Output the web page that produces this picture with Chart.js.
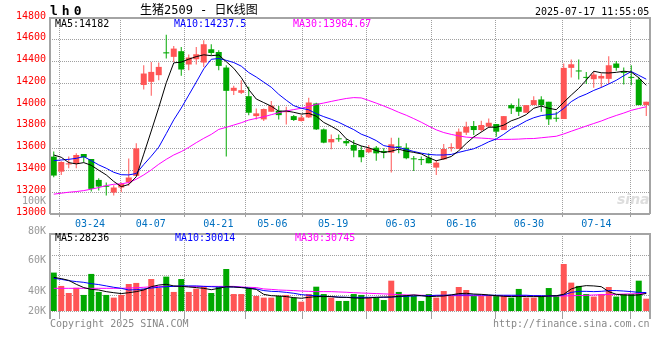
<!DOCTYPE html>
<html>
<head>
<meta charset="utf-8">
<script src="https://cdn.jsdelivr.net/npm/chart.js@4.4.1/dist/chart.umd.min.js"></script>
<style>
  html, body { margin: 0; padding: 0; background: #fff; }
  #wrap { position: relative; width: 660px; height: 360px; overflow: hidden; }
  canvas { position: absolute; left: 0; }
  .t { position: absolute; font-family: 'DejaVu Sans Mono', monospace; font-size: 10px; line-height: 12px; white-space: pre; }
  .gray { color: #999; }
</style>
</head>
<body>
<div id="wrap">
  <canvas id="priceChart" width="660" height="233" style="top:0"></canvas>
  <canvas id="volChart" width="660" height="99" style="top:226px"></canvas>

  <div class="t" style="left:50px;top:4px;font-size:13px;line-height:14px;font-weight:bold;letter-spacing:4px">lh0</div>
  <div class="t" style="left:140px;top:3px;font-size:12px;line-height:14px;font-family:'DejaVu Sans Mono','Noto Sans CJK SC',monospace">生猪2509 - 日K线图</div>
  <div class="t" style="left:535px;top:6px">2025-07-17 11:55:05</div>

  <div class="t" style="left:55px;top:18px;color:#000">MA5:14182</div>
  <div class="t" style="left:174px;top:18px;color:#0000ff">MA10:14237.5</div>
  <div class="t" style="left:293px;top:18px;color:#ff00ff">MA30:13984.67</div>

  <div class="t" style="left:617px;top:191px;font-family:'DejaVu Sans',sans-serif;font-size:14px;line-height:16px;font-style:italic;font-weight:bold;color:rgba(170,170,170,0.4)">sina</div>

  <div class="t gray" style="left:22px;top:195px">100K</div>
  <div class="t gray" style="left:28px;top:225px">80K</div>
  <div class="t gray" style="left:28px;top:254px">60K</div>
  <div class="t gray" style="left:28px;top:285px">40K</div>
  <div class="t gray" style="left:28px;top:305px">20K</div>

  <div class="t" style="left:55px;top:232px;color:#000">MA5:28236</div>
  <div class="t" style="left:175px;top:232px;color:#0000ff">MA10:30014</div>
  <div class="t" style="left:295px;top:232px;color:#ff00ff">MA30:30745</div>

  <div class="t" style="left:50px;top:318px;color:#888">Copyright 2025 SINA.COM</div>
  <div class="t" style="left:493px;top:318px;color:#888">http://finance.sina.com.cn</div>
</div>

<script>
// trading days shown (one per candle)
const DATES = [
  '03-21','03-24','03-25','03-26','03-27','03-28','03-31','04-01','04-02','04-03',
  '04-07','04-08','04-09','04-10','04-11','04-14','04-15','04-16','04-17','04-18',
  '04-21','04-22','04-23','04-24','04-25','04-28','04-29','04-30','05-06','05-07',
  '05-08','05-09','05-12','05-13','05-14','05-15','05-16','05-19','05-20','05-21',
  '05-22','05-23','05-26','05-27','05-28','05-29','05-30','06-03','06-04','06-05',
  '06-06','06-09','06-10','06-11','06-12','06-13','06-16','06-17','06-18','06-19',
  '06-20','06-23','06-24','06-25','06-26','06-27','06-30','07-01','07-02','07-03',
  '07-04','07-07','07-08','07-09','07-10','07-11','07-14','07-15','07-16','07-17'
];
const AXIS_DATES = ['03-24','04-07','04-21','05-06','05-19','06-03','06-16','06-30','07-14'];

const OPEN = [
  13527,13389,13455,13460,13551,13505,13313,13255,13197,13243,
  13290,13350,14185,14214,14275,14485,14443,14495,14373,14421,
  14391,14513,14488,14345,14131,14113,14082,13899,13869,13939,
  13948,13935,13899,13854,13887,14015,13777,13658,13692,13670,
  13634,13588,13567,13609,13579,13563,13615,13609,13509,13500,
  13518,13426,13502,13605,13597,13747,13808,13771,13802,13826,
  13771,14000,13985,13930,14000,14052,14031,13881,13872,14342,
  14314,14256,14238,14244,14241,14382,14300,14256,14235,14000
];
const HIGH = [
  13573,13485,13527,13557,13551,13505,13329,13290,13264,13290,
  13510,13649,14366,14397,14391,14647,14543,14534,14464,14534,
  14595,14559,14504,14366,14177,14229,14168,13970,13970,14037,
  13991,13985,13909,13909,14067,14021,13786,13731,13731,13689,
  13680,13624,13634,13624,13603,13701,13701,13649,13533,13527,
  13557,13496,13643,13649,13786,13847,13854,13857,13878,13826,
  13899,14015,14061,14000,14082,14082,14031,13939,14382,14418,
  14418,14305,14305,14290,14449,14406,14345,14366,14260,14031
];
const LOW = [
  13338,13359,13420,13420,13475,13206,13215,13170,13170,13200,
  13260,13350,14144,14085,14229,14427,14397,14269,14321,14373,
  14351,14458,14321,13527,14092,14101,13908,13869,13854,13939,
  13869,13823,13854,13850,13881,13771,13649,13594,13664,13624,
  13521,13475,13557,13490,13512,13380,13557,13502,13395,13450,
  13466,13359,13496,13573,13597,13725,13725,13756,13790,13710,
  13771,13918,13899,13930,14000,13939,13817,13847,13872,14253,
  14235,14195,14159,14159,14195,14315,14189,14183,14000,13899
];
const CLOSE = [
  13353,13478,13465,13542,13520,13231,13252,13250,13243,13277,
  13335,13603,14290,14305,14351,14475,14519,14327,14437,14467,
  14559,14479,14360,14131,14159,14137,13930,13924,13964,13994,
  13908,13940,13863,13887,14024,13777,13655,13689,13686,13649,
  13582,13521,13603,13557,13563,13640,13612,13512,13502,13495,
  13466,13472,13597,13612,13756,13802,13771,13817,13838,13756,
  13899,13970,13939,14000,14046,14000,13869,13875,14342,14375,
  14309,14250,14281,14268,14366,14342,14296,14250,14000,14031
];

const MA5 = [
  13542,13521,13472,13460,13472,13447,13402,13359,13299,13251,
  13271,13342,13550,13762,13977,14205,14388,14395,14422,14445,
  14462,14454,14460,14399,14338,14253,14143,14056,14023,13990,
  13944,13946,13934,13918,13924,13898,13841,13806,13766,13691,
  13652,13625,13608,13582,13565,13577,13595,13577,13566,13552,
  13517,13489,13506,13528,13581,13648,13708,13752,13797,13797,
  13816,13856,13880,13913,13971,13991,13971,13958,14026,14092,
  14154,14230,14311,14297,14295,14301,14311,14304,14251,14182
];
const MA10 = [
  13490,13496,13502,13511,13527,13490,13451,13420,13383,13361,
  13359,13372,13454,13531,13614,13738,13865,13973,14092,14211,
  14333,14421,14428,14411,14391,14358,14299,14258,14211,14164,
  14099,14045,13995,13971,13957,13921,13894,13870,13842,13808,
  13775,13733,13707,13674,13628,13615,13610,13593,13574,13559,
  13547,13542,13542,13547,13566,13583,13599,13629,13663,13689,
  13732,13782,13816,13855,13884,13904,13913,13919,13970,14032,
  14073,14101,14135,14162,14194,14228,14270,14308,14274,14238
];
const MA30 = [
  13182,13191,13200,13206,13215,13228,13243,13261,13273,13277,
  13289,13319,13359,13405,13457,13502,13542,13573,13612,13655,
  13695,13731,13777,13796,13817,13838,13863,13878,13893,13912,
  13930,13946,13959,13971,13987,14006,14019,14034,14048,14061,
  14069,14066,14043,14018,13992,13964,13934,13907,13876,13843,
  13807,13773,13748,13731,13717,13706,13701,13697,13693,13685,
  13685,13686,13688,13692,13693,13700,13707,13714,13735,13760,
  13784,13808,13831,13854,13881,13905,13927,13952,13969,13985
];

const VOLUME = [
  42100,33200,28500,32000,27200,41200,29200,27200,25400,27200,
  34500,35200,31200,37800,31800,39400,29200,37800,29200,31400,
  32700,28500,32700,44500,27800,27800,31800,26500,25400,25400,
  26500,27200,25400,22700,27800,32700,27800,25400,23200,23200,
  27800,27200,25400,25400,23800,36700,29200,27200,26500,23200,
  27800,25400,29800,26500,32500,30500,26500,26500,26500,26500,
  26500,25400,31200,25400,25400,26500,31800,26500,47800,35400,
  33200,27800,26100,27800,32500,26100,27800,27800,36700,24700
];
const VOL_MA5 = [
  38900,38100,36900,34300,32100,30900,30500,29400,28700,28100,
  28700,29400,30500,32700,33800,34300,33200,32900,32500,32100,
  31600,30700,31600,32700,32500,32100,31600,30900,27600,26700,
  26500,26100,25400,25000,25600,26100,26100,26100,25600,25600,
  25200,25000,25200,25600,25800,25800,26300,26700,27200,26700,
  26100,26300,26500,27200,28100,28300,27800,27600,27200,26700,
  26300,26100,26300,26100,26100,26100,26500,26700,27600,31200,
  32700,33400,33200,32700,29400,27600,27200,27000,27200,28200
];
const VOL_MA10 = [
  38300,37600,36700,36100,35600,34700,34100,33200,32300,31600,
  30500,30700,31200,31800,32300,32700,32900,33200,33200,33200,
  32900,32700,32500,32500,32500,32300,31800,31200,30100,29600,
  29400,28900,28300,27400,27000,26700,26300,26100,25800,25600,
  25600,25600,25600,25600,25600,25800,26100,26300,26500,26700,
  26700,27000,27000,27200,27200,27200,27200,27200,27000,27000,
  27000,27000,27000,27000,26700,26700,26500,26700,27200,28900,
  29600,29600,29400,29600,30100,30100,29800,29400,28900,28800
];
const VOL_MA30 = [
  31600,31600,31600,31600,31600,31600,31600,31600,31600,31600,
  31800,32000,32300,32600,32900,32900,32900,32900,32900,32900,
  32900,32900,32900,32900,32900,32500,32300,32100,31200,30900,
  30500,30300,30100,29800,29600,29400,29400,29400,29200,29000,
  28700,28500,28300,28100,27900,27700,27400,27200,27100,27000,
  26900,26800,26700,26700,26700,26700,26700,26700,26700,26700,
  26700,26700,26700,26700,26700,26500,26500,26500,26500,26700,
  26800,26900,27200,27300,27500,27600,27800,27900,28100,28300
];

// axis ranges
const PRICE_MIN = 13000, PRICE_MAX = 14800, PRICE_STEP = 200;
const VOL_MIN = 16500, VOL_MAX = 67800;
const VOL_GRID = [16500, 26670, 40000, 53330];

const RED = '#ff5555';
const GREEN = '#00a800';
const GRID = '#a0a0a0';
const mono = { family: "'DejaVu Sans Mono', monospace", size: 10 };

const candleColors = OPEN.map((o, i) => CLOSE[i] >= o ? RED : GREEN);

// solid frame round the plot area
const framePlugin = {
    id: 'frame',
    afterDraw(chart, args, opts) {
        const { ctx, chartArea: a } = chart;
        const ext = opts.extend || 0;
        ctx.save();
        ctx.strokeStyle = '#a4a4a4';
        ctx.lineWidth = 2;
        ctx.beginPath();
        ctx.moveTo(a.left, a.bottom + ext);
        ctx.lineTo(a.left, a.top);
        ctx.lineTo(a.right, a.top);
        ctx.lineTo(a.right, a.bottom + ext);
        if (opts.closed) {
            ctx.moveTo(a.left, a.bottom);
            ctx.lineTo(a.right, a.bottom);
        }
        ctx.stroke();
        ctx.restore();
    }
};

function maLine(data, color) {
    return {
        type: 'line', data, borderColor: color, borderWidth: 1,
        pointRadius: 0, tension: 0, fill: false, order: 0
    };
}

function dateAxis(showLabels, tickLen) {
    return {
        type: 'linear', position: 'bottom', min: 0, max: DATES.length - 1,
        afterBuildTicks: s => { s.ticks = AXIS_DATES.map(d => ({ value: DATES.indexOf(d) })); },
        afterFit: s => { s.height = showLabels ? 19 : 9; },
        ticks: {
            display: showLabels, autoSkip: false, maxRotation: 0, padding: 1,
            color: '#0070c0', font: mono,
            callback: v => DATES[v]
        },
        grid: { color: GRID, drawTicks: true, tickLength: tickLen },
        border: { display: false, dash: [1, 1] }
    };
}

const common = {
    responsive: false,
    animation: false,
    devicePixelRatio: 1,
    events: [],
    plugins: { legend: { display: false }, tooltip: { enabled: false } }
};

new Chart(document.getElementById('priceChart'), {
    type: 'bar',
    data: {
        labels: DATES,
        datasets: [
            maLine(MA5, '#000000'),
            maLine(MA10, '#0000ff'),
            maLine(MA30, '#ff00ff'),
            {
                data: OPEN.map((o, i) => [o, CLOSE[i]]),
                backgroundColor: candleColors, barThickness: 6, minBarLength: 1,
                grouped: false, inflateAmount: 0, order: 1
            },
            {
                data: LOW.map((l, i) => [l, HIGH[i]]),
                backgroundColor: candleColors, barThickness: 1,
                grouped: false, inflateAmount: 0, order: 2
            }
        ]
    },
    options: {
        ...common,
        layout: { padding: { top: 18, right: 10, left: 0, bottom: 0 } },
        scales: {
            x: { type: 'category', display: false, offset: true },
            xg: dateAxis(true, 3),
            y: {
                min: PRICE_MIN, max: PRICE_MAX,
                afterFit: s => { s.width = 50; },
                ticks: {
                    stepSize: PRICE_STEP, color: '#ff0000', font: mono, padding: 4, labelOffset: -2,
                    callback: v => String(v)
                },
                grid: { color: GRID, drawTicks: false },
                border: { display: false, dash: [1, 1] }
            }
        },
        plugins: { ...common.plugins, frame: { closed: true } }
    },
    plugins: [framePlugin]
});

new Chart(document.getElementById('volChart'), {
    type: 'bar',
    data: {
        labels: DATES,
        datasets: [
            maLine(VOL_MA5, '#000000'),
            maLine(VOL_MA10, '#0000ff'),
            maLine(VOL_MA30, '#ff00ff'),
            {
                data: VOLUME, backgroundColor: candleColors, barThickness: 6,
                grouped: false, inflateAmount: 0, order: 1
            }
        ]
    },
    options: {
        ...common,
        layout: { padding: { top: 8, right: 10, left: 0, bottom: 5 } },
        scales: {
            x: { type: 'category', display: false, offset: true },
            xg: dateAxis(false, 8),
            y: {
                min: VOL_MIN, max: VOL_MAX,
                afterBuildTicks: s => { s.ticks = VOL_GRID.map(v => ({ value: v })); },
                afterFit: s => { s.width = 50; },
                ticks: { display: false },
                grid: { color: GRID, drawTicks: false },
                border: { display: false, dash: [1, 1] }
            }
        },
        plugins: { ...common.plugins, frame: { closed: false, extend: 8 } }
    },
    plugins: [framePlugin]
});
</script>
</body>
</html>
